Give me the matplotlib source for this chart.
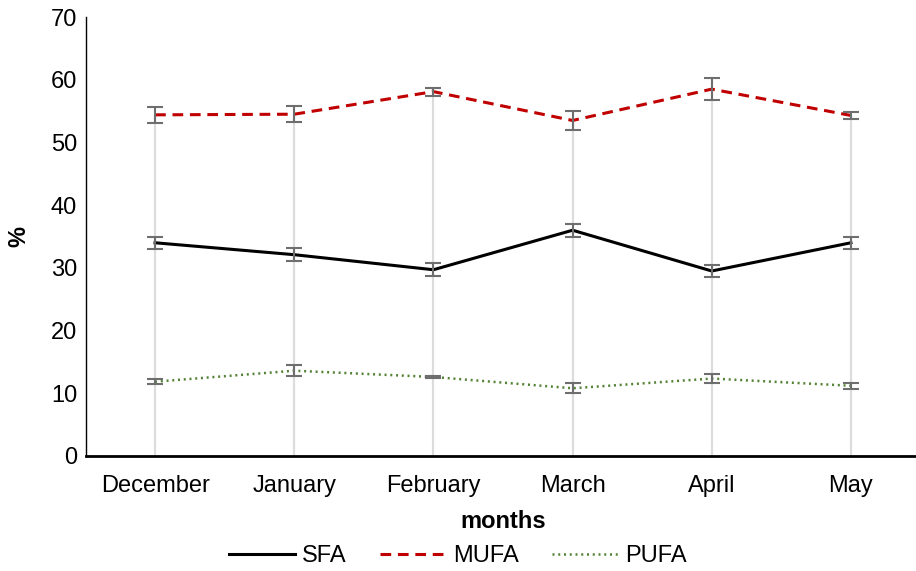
import matplotlib.pyplot as plt
import numpy as np

plt.rcParams['font.family'] = ['Liberation Sans', 'DejaVu Sans']

# Среднее содержание жирных кислот по месяцам, %
months = ['December', 'January', 'February', 'March', 'April', 'May']
sfa = [34.0, 32.1, 29.7, 36.0, 29.5, 34.0]
sfa_err = [1.0, 1.0, 1.05, 1.0, 1.0, 1.0]
mufa = [54.4, 54.5, 58.1, 53.5, 58.5, 54.3]
mufa_err = [1.3, 1.25, 0.65, 1.45, 1.7, 0.6]
pufa = [11.85, 13.6, 12.6, 10.8, 12.35, 11.2]
pufa_err = [0.4, 0.9, 0.2, 0.8, 0.65, 0.5]

x = np.arange(len(months))

fig = plt.figure(figsize=(9.16, 5.71), dpi=100)
ax = fig.add_axes([85.5 / 916, 1 - 456 / 571, 835 / 916, 439 / 571])

# Вертикальные линии проекции от оси до верхней серии
ax.vlines(x, 0, mufa, color='#dcdcdc', linewidth=1.6, zorder=1)

ax.plot(x, sfa, color='black', linewidth=2.2, label='SFA', zorder=3)
ax.plot(x, mufa, color='#c00000', linewidth=2.2, dashes=(3.5, 2.2),
        label='MUFA', zorder=3)
ax.plot(x, pufa, color='#548235', linewidth=1.8, dashes=(0.8, 1.5),
        label='PUFA', zorder=3)

for vals, errs in [(sfa, sfa_err), (mufa, mufa_err), (pufa, pufa_err)]:
    ax.errorbar(x, vals, yerr=errs, fmt='none', ecolor='#6e6e6e',
                elinewidth=1.5, capsize=6, capthick=1.5, zorder=4)

ax.set_xlim(-0.5, len(months) - 0.5)
ax.set_ylim(0, 70)
ax.set_yticks(range(0, 71, 10))
ax.set_xticks(x)
ax.set_xticklabels(months)
ax.tick_params(axis='both', length=0, labelsize=17, colors='black')
ax.tick_params(axis='y', pad=6)
ax.tick_params(axis='x', pad=14)

for side in ['top', 'right']:
    ax.spines[side].set_visible(False)
ax.spines['left'].set_linewidth(1.0)
ax.spines['bottom'].set_linewidth(2.0)

ax.set_xlabel('months', fontsize=17, fontweight='bold', labelpad=9)
ax.set_ylabel('%', fontsize=17, fontweight='bold', labelpad=15)

handles, labels = ax.get_legend_handles_labels()
fig.legend(handles, labels, loc='center', bbox_to_anchor=(0.5, 1 - 556 / 571),
           ncol=3, frameon=False, fontsize=17, handlelength=2.8,
           handletextpad=0.3, columnspacing=1.4)

plt.savefig('out.png', dpi=100, facecolor='white')
